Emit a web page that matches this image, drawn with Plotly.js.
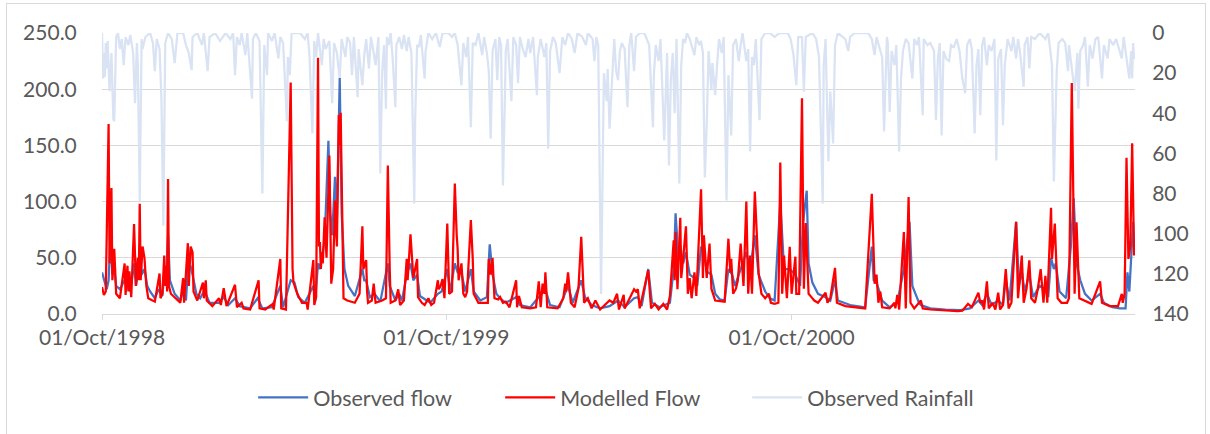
<!DOCTYPE html>
<html>
<head>
<meta charset="utf-8">
<script src="https://cdn.plot.ly/plotly-3.0.1.min.js"></script>
<style>
  html, body { margin: 0; padding: 0; background: #ffffff; }
  #wrap { position: relative; width: 1210px; height: 434px; overflow: hidden; }
  #frame { position: absolute; left: 6px; top: 3px; width: 1200px; height: 440px; border: 1px solid #d9d9d9; box-sizing: border-box; pointer-events: none; }
  #chart { position: absolute; left: 0; top: 0; width: 1210px; height: 434px; }
</style>
</head>
<body>
<div id="wrap">
  <div id="chart"></div>
  <div id="frame"></div>
</div>
<script>
// Series start date; day offsets below are days since this date
const startDate = '1998-10-01';

// Observed flow (left axis)
const obsDay = [0,2,5,7,9,11,13,15,19,24,27,30,34,36,38,40,42,45,48,51,56,60,64,66,68,70,72,77,83,86,89,91,94,96,100,104,108,110,114,124,129,134,141,146,157,165,170,180,189,192,200,204,208,215,224,226,229,231,233,236,240,242,244,247,249,252,254,257,261,268,276,278,280,284,289,295,303,305,311,315,318,323,327,330,334,337,348,356,360,366,369,374,377,381,385,391,394,401,408,411,414,418,422,428,439,443,454,463,470,475,485,494,499,508,512,519,528,538,547,554,564,568,572,579,583,591,602,606,608,611,613,616,619,623,628,631,635,638,641,646,650,655,660,664,668,671,677,683,687,692,696,703,708,713,719,723,729,735,740,743,747,749,753,759,767,772,777,780,793,809,816,818,821,827,835,843,850,856,859,866,868,878,894,910,920,929,933,938,943,950,955,958,962,969,972,975,978,983,987,994,1000,1003,1006,1009,1011,1015,1022,1027,1030,1033,1037,1042,1049,1058,1062,1071,1079,1085,1087,1089,1093,1094];
const obsFlow = [37,30,22,30,69,35,40,25,22,30,28,20,45,25,35,60,35,40,25,20,14,22,16,35,30,70,30,18,12,20,12,40,42,35,18,14,20,18,10,10,15,8,14,7,5,14,5,6,25,6,30,28,15,10,25,12,45,40,50,65,154,90,70,122,85,210,90,40,25,16,40,30,30,15,18,11,45,25,12,18,12,35,45,30,35,16,10,18,20,40,20,45,37,37,20,40,20,12,15,62,35,18,14,10,15,8,6,15,22,8,6,25,10,30,15,8,5,7,12,6,14,15,7,40,10,6,10,40,89.5,50,60,45,55,35,32,25,60,55,38,35,18,13,12,40,35,25,40,55,40,70,35,20,14,12,100,40,40,35,25,80,109.7,45,28,18,15,12,30,12,8,6,60,30,28,12,6,10,40,82,25,10,8,5,4,3.5,5,12,8,18,8,12,8,30,12,82,25,38,20,35,15,25,22,15,50,40,45,20,14,60,103,45,30,18,12,18,10,6,5,5,37,20,82,60];

// Modelled flow (left axis)
const modDay = [0,2,4,7,8,10,11,13,15,19,24,25,27,28,29,31,34,36,38,39,40,41,43,45,47,49,56,61,62,64,66,67,68,69,70,71,73,83,86,87,91,92,94,96,97,101,107,108,110,111,117,124,126,129,132,141,143,148,150,157,166,167,173,181,182,189,190,195,200,202,203,207,212,217,218,224,225,227,229,230,231,232,233,234,236,238,241,242,243,245,247,248,249,251,252,253,255,256,260,268,273,276,277,280,281,282,286,288,290,297,301,303,305,306,311,314,316,320,323,324,327,329,330,334,335,339,342,346,349,352,356,357,359,361,363,366,368,371,374,376,377,378,381,383,385,387,391,393,394,399,409,410,412,414,416,420,422,425,428,432,439,440,442,445,454,460,463,465,467,469,470,472,483,489,491,492,494,497,501,505,508,511,515,519,523,528,538,542,546,548,553,554,564,566,568,570,579,582,586,590,595,599,602,606,607,608,610,613,614,616,619,621,623,625,628,630,635,637,638,641,644,646,650,660,664,666,667,669,672,674,677,680,683,685,687,689,692,696,699,703,707,709,713,717,719,721,723,726,729,731,735,736,739,742,744,746,749,752,755,759,767,769,772,777,779,788,798,809,816,819,821,823,825,827,835,840,841,843,845,850,852,855,857,861,868,870,878,894,907,912,918,922,929,931,933,935,938,940,944,947,950,952,955,958,961,964,969,971,975,977,980,983,985,989,992,995,998,1000,1002,1006,1007,1010,1013,1017,1023,1025,1028,1031,1033,1036,1042,1049,1058,1060,1068,1077,1081,1082,1084,1086,1088,1090,1092,1094];
const modFlow = [24,17,20,169,45,112,30,58,18,14,45,17,43,20,38,15,80,25,50,30,98,30,60,50,25,14,11,36,14,18,52,25,43,20,120,25,18,10,32,10,63,25,60,55,20,12,28,14,30,12,7,14,8,23,7,26,6,10,5,4,30,5,4,9,4,49,5,4,206,40,28,18,10,10,4,48,8,15,228,60,64,40,55,45,86,50,141,60,27,40,101,76,60,177,150,179,50,14,12,10,18,78,40,48,20,10,12,27,10,12,14,132,40,10,12,22,8,12,49,30,71,40,32,49,15,10,8,14,8,10,30,22,25,31,14,80.5,18,20,116,70,58,30,45,18,15,20,83.5,49,18,10,10,49,35,50,14,13,15,10,11,6,30,6,16,6,5,6,29,6,27,18,37,6,5,14,27,20,37,10,6,22.5,68.6,10,14,5,12,4,12,10,18,4,17,5,22,20,22,5,39,5,9,4,9,4,16,65.6,30,73,22,85.6,32,49,78,18,32,14,37,16,111,32,70,32,62.7,22.5,12,11,67,37,49,18,22.5,30,62.7,25,100,18,52,18,109,37,18,14,18,10,9,10,134.7,18,52,14,59.7,18,51,18,18,192,22.5,81,18,15,12,10,19,10,14,41,10,7,6,5,107,27,35,10,20,6,5,10,5,17,4,73,5,104,10,5,12,5,4,3,2.5,3,9,6,19,10,12,4,29,5,10,4,19,4,8,40,5,10,82,14,52,10,22.5,47.8,14,10,22.5,40,10,34,10,94.5,49,80.5,14,10,10,14,205.5,18,81.5,14,12,9,29,10,7,7,18,10,18,139,49,60,152,52];

// Observed rainfall (right axis, reversed)
const rainDay = [0,1,2,3,4,5,6,8,10,12,13,15,17,19,21,23,25,28,30,33,35,37,38,40,42,43,46,51,54,56,58,61,63,65,67,70,74,77,80,86,89,92,95,96,101,104,106,108,112,114,120,125,131,136,139,141,143,146,148,152,154,159,160,163,167,170,172,175,176,180,183,187,189,192,196,197,199,201,210,215,218,220,223,225,227,229,231,233,235,237,241,244,246,249,252,254,258,260,263,265,267,271,272,276,278,280,283,285,288,290,293,295,297,299,301,302,304,306,308,311,312,315,318,320,323,325,328,331,332,334,336,338,342,343,346,350,354,358,361,367,371,374,377,381,383,386,388,391,393,396,399,403,405,408,410,412,414,417,419,421,423,425,427,428,430,434,436,439,441,443,446,449,452,454,457,461,462,465,469,471,473,475,478,481,485,488,491,494,498,501,504,509,513,515,520,522,524,526,529,531,532,535,536,538,541,543,545,547,549,551,554,557,559,561,564,566,570,575,580,584,585,587,590,592,596,598,599,601,603,605,607,609,612,614,616,618,620,623,628,630,633,635,637,639,641,643,646,647,650,652,654,657,659,662,664,667,669,672,675,677,679,683,685,687,689,691,693,697,699,703,708,713,718,727,730,733,736,738,742,744,746,753,757,760,764,765,767,770,772,775,777,780,788,791,793,798,806,812,816,819,821,825,827,829,832,833,835,837,840,842,845,847,849,852,855,859,861,864,866,870,871,875,878,882,884,886,888,890,892,895,898,900,903,906,909,912,915,917,920,922,925,927,929,931,933,935,938,940,943,946,948,950,953,955,957,960,964,966,969,971,973,977,978,981,983,985,989,994,1000,1003,1005,1007,1009,1011,1012,1014,1018,1021,1024,1025,1027,1029,1031,1034,1035,1037,1040,1042,1045,1047,1050,1053,1056,1060,1062,1066,1068,1072,1075,1081,1083,1087,1089,1091,1092,1093,1094];
const rainMm = [0,22.7,10,22,5,17.7,4,29,10,42.7,44,2,0,8,3,16,2,6,1,10,35,5,16,84,3,8,2,0,5,19,3,8,32.7,96,5,0,3,15,0,0,6,10,18.5,2,0,4,6,0,19,2,0,4,0,3,0,21,2,6,0,11,0,32.7,3,0,4,80,6,21,0,4,0,12.7,2,5,44,12,21,0,0,3,0,12,50,4,12,0,8,16,3,8,4,35,5,10,22.7,3,12,2,5,21,2,32,8,26,11,3,17.7,2,10,16,2,70,19,6,37.7,2,6,0,12,37,6,2,8,1,9,2,10,85,42.7,6,7,1,22.7,9,0,3,0,7,0,0,2,0,6,26,5,12,2,47,5,6,0,11,2,10,19,52.7,9,3,23.5,2,6,76,34,9,3,34,2,6,25,2,8,12,3,10,2,31,12,3,12,5,57.7,9,2,5,20,2,6,0,3,10,0,2,6,0,3,14,2,6,130,38,20,34,18,47.7,22,3,19,23.5,9,5,8,37,6,0,19,2,0,0,6,47,21,6,14,3,53.5,23,10,66,23,10,40,3,75,16,3,5,0,3,11,2,6,4,10,72,46,9,28.5,15,31,16,3,10,2,83.5,21,51,6,3,14,6,0,14,8,59,12,16,3,43.5,3,0,0,2,0,0,3,11,26,2,2,29.3,2,0,3,12,85,16,3,64,29,55,6,0,3,9,2,0,0,0,3,11,2,8,12,49,2,5,39.3,9,16,6,59,22.7,9,3,5,22.7,3,6,2,41,3,6,5,9,43.5,13,5,51,9,13,14,6,7,3,9,22.7,30,6,3,8,50,16,8,41,6,2,16,6,9,3,63.5,13,8,46,16,3,9,2,12.7,3,9,26.8,6,2,17.7,2,3,0,3,0,10,16,74,42.7,19,5,3,5,19,6,13,21,29,10,37.7,9,6,2,26.8,6,12.7,3,2,22.7,6,12.7,3,6,3,12.7,2,16,22.7,9,22.5,5,13];

// Axis tick labels
const xTickDays = [0, 365, 731];
const xTickText = ['01/Oct/1998', '01/Oct/1999', '01/Oct/2000'];
const seriesNames = ['Observed flow', 'Modelled Flow', 'Observed Rainfall'];

const t0 = Date.parse(startDate + 'T00:00:00Z');
function toDate(d) { return new Date(t0 + d * 86400000).toISOString().slice(0, 10); }

const txtColor = '#595959';
const fontFam = 'Lato, "Open Sans", sans-serif';

const traces = [
  { x: obsDay.map(toDate), y: obsFlow, name: seriesNames[0], type: 'scatter', mode: 'lines',
    line: { color: '#4472c4', width: 2.25 }, xaxis: 'x', yaxis: 'y2' },
  { x: modDay.map(toDate), y: modFlow, name: seriesNames[1], type: 'scatter', mode: 'lines',
    line: { color: '#ff0000', width: 2.25 }, xaxis: 'x', yaxis: 'y2' },
  { x: rainDay.map(toDate), y: rainMm, name: seriesNames[2], type: 'scatter', mode: 'lines',
    line: { color: '#dae3f3', width: 2.25 }, xaxis: 'x', yaxis: 'y' }
];

const layout = {
  width: 1210, height: 434,
  margin: { l: 102, r: 75, t: 33, b: 120 },
  paper_bgcolor: '#ffffff', plot_bgcolor: '#ffffff',
  font: { family: fontFam, size: 21, color: txtColor },
  showlegend: true,
  legend: { orientation: 'h', x: 0.505, xanchor: 'center', y: -0.297, yanchor: 'middle',
            entrywidth: 182, entrywidthmode: 'pixels', itemwidth: 50,
            font: { family: fontFam, size: 21.5, color: txtColor }, traceorder: 'normal' },
  xaxis: {
    type: 'date', range: [toDate(0), toDate(1095)], anchor: 'y',
    tickvals: xTickDays.map(toDate), ticktext: xTickText,
    showgrid: false, zeroline: false, showline: true, linecolor: '#d9d9d9', linewidth: 1,
    ticks: 'outside', ticklen: 5, tickcolor: '#d9d9d9',
    tickfont: { family: fontFam, size: 21, color: txtColor }
  },
  yaxis: {
    side: 'right', range: [140, 0], dtick: 20, tick0: 0, tickformat: 'd',
    showgrid: false, zeroline: false, showline: false,
    ticks: 'outside', ticklen: 12, tickcolor: 'rgba(0,0,0,0)',
    tickfont: { family: fontFam, size: 21, color: txtColor }
  },
  yaxis2: {
    overlaying: 'y', side: 'left', range: [0, 250], dtick: 50, tick0: 0, tickformat: '.1f',
    showgrid: true, gridcolor: '#d9d9d9', gridwidth: 1, zeroline: false, showline: false,
    ticks: 'outside', ticklen: 20, tickcolor: 'rgba(0,0,0,0)',
    tickfont: { family: fontFam, size: 21, color: txtColor }
  }
};

Plotly.newPlot('chart', traces, layout, { displayModeBar: false, staticPlot: true });
</script>
</body>
</html>
